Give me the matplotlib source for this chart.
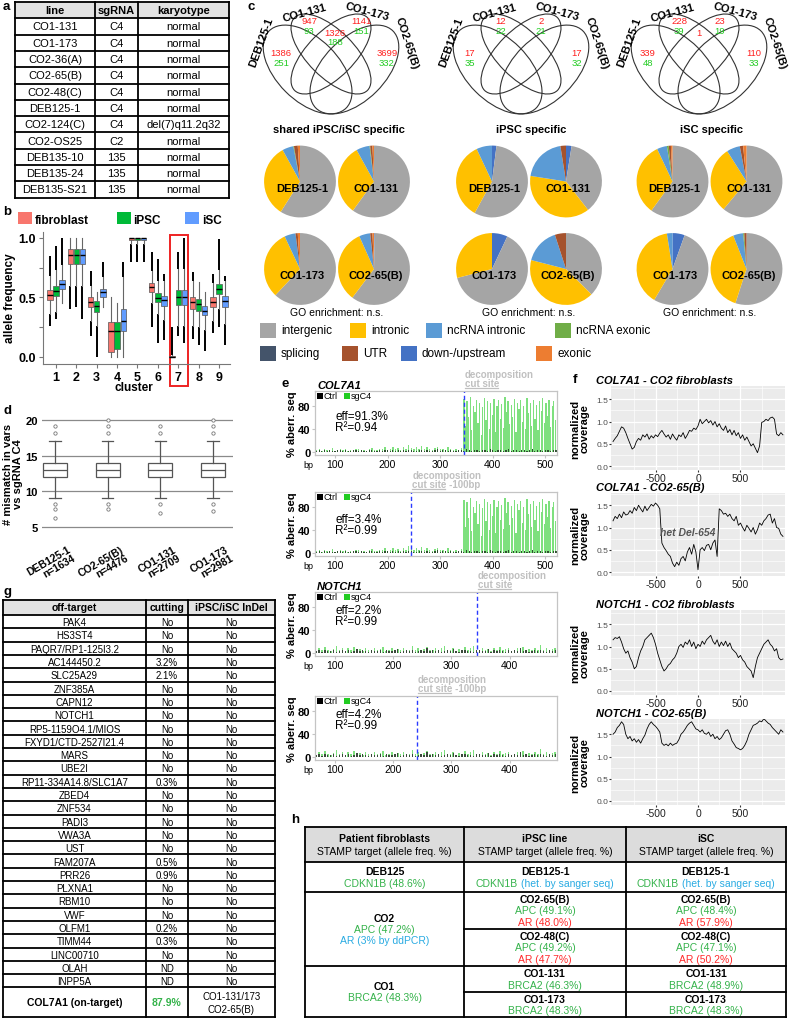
import numpy as np
import matplotlib
matplotlib.use("Agg")
import matplotlib.pyplot as plt
from matplotlib.patches import Rectangle, Ellipse

plt.rcParams["font.family"] = ["Liberation Sans", "DejaVu Sans"]

W, H = 790, 1020

# ---------------- data ----------------
# a: cell lines
a_lines = ["CO1-131", "CO1-173", "CO2-36(A)", "CO2-65(B)", "CO2-48(C)", "DEB125-1",
           "CO2-124(C)", "CO2-OS25", "DEB135-10", "DEB135-24", "DEB135-S21"]
a_sgrna = ["C4", "C4", "C4", "C4", "C4", "C4", "C4", "C2", "135", "135", "135"]
a_karyo = ["normal", "normal", "normal", "normal", "normal", "normal", "del(7)q11.2q32",
           "normal", "normal", "normal", "normal"]

# b: allele frequency per cluster (fibroblast, iPSC, iSC)
clusters = [1, 2, 3, 4, 5, 6, 7, 8, 9]
fib_med = [0.52, 0.86, 0.46, 0.22, 1.00, 0.585, 0.00, 0.46, 0.46]
fib_q1 = [0.48, 0.78, 0.42, 0.045, 0.98, 0.55, 0.00, 0.40, 0.42]
fib_q3 = [0.56, 0.91, 0.50, 0.29, 1.00, 0.62, 0.01, 0.50, 0.50]
fib_wlo = [0.36, 0.60, 0.30, 0.00, 0.95, 0.45, 0.00, 0.26, 0.30]
fib_whi = [0.68, 1.00, 0.60, 0.50, 1.00, 0.72, 0.02, 0.64, 0.62]
fib_fl = [[(0.26, 0.36), (0.68, 0.85)], [(0.40, 0.60)], [(0.18, 0.30), (0.60, 0.72)], [],
          [(0.80, 0.95)], [(0.25, 0.45), (0.72, 0.88)], [(0.02, 0.25)],
          [(0.15, 0.26), (0.64, 0.71)], [(0.20, 0.30), (0.62, 0.70)]]
ipsc_med = [0.555, 0.86, 0.425, 0.22, 1.00, 0.495, 0.50, 0.445, 0.57]
ipsc_q1 = [0.51, 0.78, 0.375, 0.065, 0.98, 0.46, 0.44, 0.39, 0.53]
ipsc_q3 = [0.60, 0.91, 0.47, 0.29, 1.00, 0.535, 0.56, 0.49, 0.61]
ipsc_wlo = [0.38, 0.60, 0.26, 0.00, 0.95, 0.36, 0.26, 0.25, 0.40]
ipsc_whi = [0.73, 1.00, 0.55, 0.45, 1.00, 0.64, 0.74, 0.63, 0.73]
ipsc_fl = [[(0.32, 0.38), (0.73, 0.93)], [(0.42, 0.60)], [(0.00, 0.26)], [],
           [(0.80, 0.95)], [(0.12, 0.36), (0.64, 0.82)], [(0.18, 0.26), (0.74, 0.88)],
           [(0.10, 0.25)], [(0.25, 0.40), (0.73, 0.99)]]
isc_med = [0.61, 0.86, 0.545, 0.305, 1.00, 0.475, 0.50, 0.39, 0.47]
isc_q1 = [0.57, 0.78, 0.50, 0.22, 0.98, 0.43, 0.44, 0.35, 0.42]
isc_q3 = [0.65, 0.91, 0.57, 0.40, 1.00, 0.515, 0.56, 0.43, 0.51]
isc_wlo = [0.45, 0.60, 0.42, 0.00, 0.95, 0.31, 0.26, 0.23, 0.28]
isc_whi = [0.77, 1.00, 0.67, 0.67, 1.00, 0.64, 0.74, 0.55, 0.64]
isc_fl = [[(0.77, 1.00)], [(0.32, 0.60)], [(0.67, 0.80)], [(0.67, 0.80)], [(0.80, 0.95)],
          [(0.14, 0.31), (0.64, 0.70)], [(0.12, 0.26), (0.74, 1.00)], [(0.05, 0.23)],
          [(0.10, 0.28), (0.64, 0.68)]]
b_groups = ["fibroblast", "iPSC", "iSC"]

# c: venn counts (regions: DEB only, CO1-131 only, CO1-131&173, CO1-173 only, CO2-65(B) only)
venn_sets = ["DEB125-1", "CO1-131", "CO1-173", "CO2-65(B)"]
venn_titles = ["shared iPSC/iSC specific", "iPSC specific", "iSC specific"]
venn_red = [[1386, 947, 1326, 1141, 3699], [17, 12, None, 2, 17], [339, 228, 1, 23, 110]]
venn_green = [[251, 93, 188, 151, 332], [35, 22, None, 21, 32], [48, 39, None, 19, 33]]

pie_cats = ["intergenic", "intronic", "ncRNA intronic", "ncRNA exonic",
            "splicing", "UTR", "down-/upstream", "exonic"]
pie_samples = ["DEB125-1", "CO1-131", "CO1-173", "CO2-65(B)"]
pie_shared = [[59, 33, 5, 0.3, 0, 1.7, 0, 1.0],
              [60, 32, 6, 0.3, 0, 1.0, 0, 0.7],
              [62, 31, 5, 0, 0, 1.0, 0, 1.0],
              [60, 33, 5, 0, 0, 1.0, 0.3, 0.7]]
pie_ipsc = [[56, 35, 7, 0, 0, 0, 2, 0],
            [37, 38, 20, 0, 0, 2.5, 2.5, 0],
            [64, 29, 0, 0, 0, 0, 7, 0],
            [37.5, 41.5, 16, 0, 0, 5, 0, 0]]
pie_isc = [[60, 33, 4.5, 0.8, 0, 1.0, 0, 0.7],
           [61, 30, 6, 0, 0, 1.5, 0, 1.5],
           [53, 39, 2.5, 0, 0, 0, 5.5, 0],
           [55, 39, 4.5, 0.5, 0, 1.0, 0, 0]]

# d: mismatches
d_labels = ["DEB125-1\nn=1634", "CO2-65(B)\nn=4476", "CO1-131\nn=2709", "CO1-173\nn=2981"]
d_med = [13, 13, 13, 13]
d_q1 = [12, 12, 12, 12]
d_q3 = [14, 14, 14, 14]
d_wlo = [9, 9, 9, 9]
d_whi = [17, 17, 17, 17]
d_fliers = [[19.2, 18.2, 8.2, 7.5, 6.3], [20, 19.2, 18.2, 8.2, 7.5],
            [19.2, 18.2, 8.2, 7.0], [20, 19.2, 18.2, 8.2, 7.2]]

# e: % aberrant sequence traces
col7_sg_low = [3, 5, 2, 6, 4, 3, 7, 2, 4, 5, 3, 6, 2, 4, 3, 5, 6, 3, 4, 2, 5, 7, 3, 4, 6, 5, 8, 4,
               6, 9, 5, 7, 4, 8, 6, 12, 7, 5, 9, 6, 10, 5, 8, 6, 4, 7, 9, 5, 6, 4, 8, 5, 3, 6, 4, 7]
col7_sg_high = [92, 45, 88, 60, 95, 38, 80, 70, 90, 50, 85, 30, 78, 93, 55, 88, 40, 86, 65, 92,
                35, 80, 90, 58, 84, 42, 95, 70, 88, 48, 82, 60, 92, 35, 86, 75, 90, 52, 80, 40,
                94, 68, 86, 45, 90, 58, 82, 38, 88, 72, 93, 50, 85, 62, 90, 44, 80, 88, 55]
col7_ctrl = [2, 3, 1, 4, 2, 3, 2, 1, 3, 4, 2, 3, 1, 2, 4, 3, 2, 3, 1, 2, 3, 4, 2, 1, 3, 2, 4, 3,
             2, 3, 1, 4, 2, 3, 2, 4, 3, 1, 2, 3, 4, 2, 3, 2, 1, 3, 5, 2, 3, 4, 2, 3, 1, 2, 4, 3,
             2, 5, 3, 2, 4, 3, 2, 3, 4, 2, 5, 3, 2, 4, 3, 2, 3, 5, 2, 4, 3, 2, 3, 4, 2, 3, 5, 2,
             3, 4, 2, 3, 4, 2, 3, 4]
notch_sg = [4, 8, 5, 10, 6, 3, 7, 12, 5, 8, 4, 9, 6, 11, 5, 7, 3, 8, 6, 4, 9, 5, 7, 10, 4, 6, 8,
            3, 7, 5, 9, 4, 6, 12, 5, 8, 4, 7, 10, 5, 6, 9, 4, 8, 13, 6, 5, 9, 4, 7, 6, 10, 5, 8,
            12, 4, 6, 9, 5, 7, 4, 8, 6, 11, 5, 7, 9, 4, 6, 8, 5, 10, 4, 7, 6, 9, 5, 14, 6, 8, 5,
            7, 9]
notch_ctrl = [3, 5, 2, 6, 4, 3, 5, 2, 4, 6, 3, 5, 2, 4, 7, 3, 5, 4, 2, 6, 3, 4, 5, 2, 6, 4, 3,
              5, 7, 2, 4, 6, 3, 5, 2, 4, 6, 3, 8, 4, 5, 3, 6, 2, 4, 5, 3, 7, 4, 2, 5, 6, 3, 4, 2,
              6, 5, 3, 4, 7, 2, 5, 3, 6, 4, 2, 5, 3, 6, 4, 8, 3, 5, 2, 4, 6, 3, 5, 4, 2, 6, 3, 5]
e_gene = ["COL7A1", "COL7A1", "NOTCH1", "NOTCH1"]
e_cut = [345, 245, 343, 241]
e_window = ["cut site", "cut site -100bp", "cut site", "cut site -100bp"]
e_eff = ["91.3%", "3.4%", "2.2%", "4.2%"]
e_r2 = ["0.94", "0.99", "0.99", "0.99"]

# f: normalized coverage, positions -1000..1000 step 25
f_titles = ["COL7A1 - CO2 fibroblasts", "COL7A1 - CO2-65(B)",
            "NOTCH1 - CO2 fibroblasts", "NOTCH1 - CO2-65(B)"]
f_cov = [
    [0.55, 0.62, 0.68, 0.78, 0.88, 0.85, 0.75, 0.62, 0.50, 0.38,
     0.42, 0.55, 0.62, 0.58, 0.70, 0.65, 0.72, 0.60, 0.68, 0.63,
     0.70, 0.66, 0.74, 0.80, 0.72, 0.65, 0.70, 0.60, 0.72, 0.64,
     0.58, 0.70, 0.66, 0.75, 0.62, 0.70, 0.80, 0.78, 0.85, 0.82,
     0.90, 1.05, 0.95, 1.00, 1.05, 0.97, 1.02, 0.92, 1.00, 0.88,
     0.95, 0.85, 0.80, 0.90, 0.75, 0.82, 0.70, 0.80, 0.68, 0.75,
     0.62, 0.70, 0.58, 0.65, 0.55, 0.45, 0.50, 0.40, 0.30, 0.45,
     0.98, 1.00, 1.05, 1.02, 1.08, 1.10, 1.05, 0.72, 0.68, 0.75, 0.70],
    [1.15, 1.25, 1.20, 1.30, 1.22, 1.35, 1.28, 1.30, 1.38, 1.32,
     1.45, 1.38, 1.50, 1.42, 1.35, 1.48, 1.38, 1.45, 1.52, 1.48,
     1.55, 1.50, 1.42, 0.65, 0.55, 0.48, 0.40, 0.35, 0.20, 0.12,
     0.22, 0.15, 0.30, 0.35, 0.25, 0.45, 0.55, 0.40, 0.62, 0.45,
     0.05, 0.50, 0.55, 0.48, 0.60, 0.62, 0.50, 0.65, 0.72, 0.35,
     1.42, 1.38, 1.30, 1.32, 1.25, 1.30, 1.20, 1.15, 1.25, 1.05,
     1.10, 1.00, 0.92, 1.05, 0.98, 0.90, 1.00, 0.85, 0.95, 1.10,
     1.05, 1.15, 1.20, 1.28, 1.30, 1.10, 1.20, 1.00, 0.98, 0.85, 0.80],
    [1.15, 1.20, 1.18, 1.22, 1.10, 0.95, 0.85, 0.90, 0.75, 0.65,
     0.50, 0.55, 0.75, 0.90, 1.00, 1.15, 1.20, 1.25, 1.30, 1.20,
     1.05, 0.85, 0.70, 0.55, 0.45, 0.50, 0.58, 0.62, 0.70, 0.75,
     0.85, 1.00, 1.05, 0.98, 1.10, 1.05, 1.15, 1.00, 1.10, 0.95,
     1.05, 1.00, 1.12, 1.05, 1.15, 1.20, 1.25, 1.12, 1.05, 1.15,
     1.00, 1.10, 1.02, 1.12, 1.00, 1.08, 0.95, 0.90, 0.85, 0.75,
     0.80, 0.70, 0.65, 0.55, 0.50, 0.45, 0.30, 0.55, 0.75, 0.85,
     0.95, 1.05, 1.10, 1.15, 1.05, 1.00, 0.90, 0.95, 0.75, 0.70, 0.72],
    [1.50, 1.55, 1.65, 1.70, 1.78, 1.72, 1.50, 1.40, 1.45, 1.35,
     1.40, 1.32, 1.38, 1.30, 1.40, 1.48, 1.62, 1.72, 1.78, 1.72,
     1.68, 1.62, 1.55, 1.30, 1.25, 1.28, 1.24, 1.30, 1.25, 1.28,
     1.30, 1.38, 1.50, 1.55, 1.62, 1.70, 1.75, 1.78, 1.70, 1.62,
     1.60, 1.55, 1.60, 1.52, 1.50, 1.55, 1.45, 1.50, 1.40, 1.45,
     1.38, 1.42, 1.50, 1.58, 1.60, 1.50, 1.35, 1.28, 1.20, 1.18,
     1.15, 1.18, 1.25, 1.35, 1.50, 1.60, 1.70, 1.72, 1.75, 1.80,
     1.78, 1.85, 1.80, 1.75, 1.72, 1.65, 1.60, 1.55, 1.50, 1.60, 1.55],
]

# g: off-target table
g_targets = ["PAK4", "HS3ST4", "PAQR7/RP1-125I3.2", "AC144450.2", "SLC25A29", "ZNF385A",
             "CAPN12", "NOTCH1", "RP5-1159O4.1/MIOS", "FXYD1/CTD-2527I21.4", "MARS", "UBE2I",
             "RP11-334A14.8/SLC1A7", "ZBED4", "ZNF534", "PADI3", "VWA3A", "UST", "FAM207A",
             "PRR26", "PLXNA1", "RBM10", "VWF", "OLFM1", "TIMM44", "LINC00710", "OLAH", "INPP5A"]
g_cutting = ["No", "No", "No", "3.2%", "2.1%", "No", "No", "No", "No", "No", "No", "No", "0.3%",
             "No", "No", "No", "No", "No", "0.5%", "0.9%", "No", "No", "No", "0.2%", "0.3%",
             "No", "ND", "ND"]
g_indel = ["No"] * 28

# h: STAMP targets
G, R, B = "#34b24a", "#ff2a2a", "#29abe2"
h_patient = [("DEB125", [("CDKN1B (48.6%)", G)]),
             ("CO2", [("APC (47.2%)", G), ("AR (3% by ddPCR)", B)]),
             ("CO1", [("BRCA2 (48.3%)", G)])]
h_ipsc = [("DEB125-1", [(("CDKN1B", G), ("(het. by sanger seq)", B))]),
          ("CO2-65(B)", [("APC (49.1%)", G), ("AR (48.0%)", R)]),
          ("CO2-48(C)", [("APC (49.2%)", G), ("AR (47.7%)", R)]),
          ("CO1-131", [("BRCA2 (46.3%)", G)]),
          ("CO1-173", [("BRCA2 (48.3%)", G)])]
h_isc = [("DEB125-1", [(("CDKN1B", G), ("(het. by sanger seq)", B))]),
         ("CO2-65(B)", [("APC (48.4%)", G), ("AR (57.9%)", R)]),
         ("CO2-48(C)", [("APC (47.1%)", G), ("AR (50.2%)", R)]),
         ("CO1-131", [("BRCA2 (48.9%)", G)]),
         ("CO1-173", [("BRCA2 (48.3%)", G)])]

# ---------------- figure ----------------
fig = plt.figure(figsize=(W / 100, H / 100), dpi=100)
ov = fig.add_axes([0, 0, 1, 1])
ov.set_xlim(0, W)
ov.set_ylim(H, 0)
ov.axis("off")


def px_axes(x0, y0, x1, y1):
    return fig.add_axes([x0 / W, 1 - y1 / H, (x1 - x0) / W, (y1 - y0) / H])


def letter(x, y, s):
    ov.text(x, y, s, fontsize=9.5, fontweight="bold", va="top", ha="left")


def hl(x0, x1, y, lw=1.3):
    ov.plot([x0, x1], [y, y], color="black", lw=lw, solid_capstyle="projecting")


def vl(x, y0, y1, lw=1.3):
    ov.plot([x, x], [y0, y1], color="black", lw=lw, solid_capstyle="projecting")


# ---- a ----
letter(3, 1, "a")
ax_ = [15, 95, 138, 229]
ay_ = [3 + 16.3 * i for i in range(13)]
ov.add_patch(Rectangle((ax_[0], ay_[0]), ax_[-1] - ax_[0], ay_[1] - ay_[0], color="#e3e3e3", lw=0))
for x in ax_:
    vl(x, ay_[0], ay_[-1])
for y in ay_:
    hl(ax_[0], ax_[-1], y)
for j, head in enumerate(["line", "sgRNA", "karyotype"]):
    ov.text((ax_[j] + ax_[j + 1]) / 2, (ay_[0] + ay_[1]) / 2, head, fontsize=8,
            fontweight="bold", ha="center", va="center")
for i, row in enumerate(zip(a_lines, a_sgrna, a_karyo)):
    for j, val in enumerate(row):
        ov.text((ax_[j] + ax_[j + 1]) / 2, (ay_[i + 1] + ay_[i + 2]) / 2, val, fontsize=8,
                ha="center", va="center")

# ---- b ----
letter(3, 206, "b")
b_colors = ["#F8766D", "#00BA38", "#619CFF"]
for (sx, tx), name, col in zip([(18, 35), (117, 133), (185, 202)], b_groups, b_colors):
    ov.add_patch(Rectangle((sx, 213), 14, 12, color=col, lw=0))
    ov.text(tx, 221, name, fontsize=8.5, fontweight="bold", va="center", ha="left")

axb = px_axes(43, 233, 230, 365)
axb.set_facecolor("none")
offsets = [-0.3, 0.0, 0.3]
b_data = [(fib_med, fib_q1, fib_q3, fib_wlo, fib_whi, fib_fl),
          (ipsc_med, ipsc_q1, ipsc_q3, ipsc_wlo, ipsc_whi, ipsc_fl),
          (isc_med, isc_q1, isc_q3, isc_wlo, isc_whi, isc_fl)]
for g, (med, q1, q3, wlo, whi, fl) in enumerate(b_data):
    pos = [c + offsets[g] for c in clusters]
    for k in range(len(clusters)):
        for lo, hi in fl[k]:
            axb.vlines(pos[k], lo, hi, color="black", lw=1.4, zorder=1)
    stats = [dict(med=med[k], q1=q1[k], q3=q3[k], whislo=wlo[k], whishi=whi[k], fliers=[])
             for k in range(len(clusters))]
    axb.bxp(stats, positions=pos, widths=0.26, patch_artist=True, showfliers=False,
            showcaps=False, manage_ticks=False,
            boxprops=dict(facecolor=b_colors[g], edgecolor="#555555", lw=0.5),
            medianprops=dict(color="black", lw=1.0),
            whiskerprops=dict(color="#666666", lw=0.8))
axb.set_xlim(0.362, 9.54)
axb.set_ylim(-0.059, 1.05)
for s in ["top", "right"]:
    axb.spines[s].set_visible(False)
for s in ["left", "bottom"]:
    axb.spines[s].set_color("#777777")
axb.set_xticks(clusters)
axb.set_xticklabels([str(c) for c in clusters], fontsize=9, fontweight="bold")
axb.set_yticks([0, 0.5, 1.0])
axb.set_yticklabels(["0.0", "0.5", "1.0"], fontsize=9, fontweight="bold")
axb.set_yticks([0.25, 0.75], minor=True)
axb.tick_params(which="both", length=3, width=0.8, color="#777777", pad=2)
axb.add_patch(Rectangle((6.58, -0.244), 0.9, 1.27, fill=False, edgecolor="#ee2222", lw=1.4,
                        clip_on=False, transform=axb.transData))
ov.text(10, 298, "allele frequency", rotation=90, fontsize=8.5, fontweight="bold",
        ha="center", va="center")
ov.text(134, 388, "cluster", fontsize=8.5, fontweight="bold", ha="center", va="center")

# ---- c ----
letter(247, 1, "c")
venn_cx = [331, 521, 699]
ell = [(-23.4, 70.5, 109, 62.4, 45), (0, 55, 103, 46.8, 45),
       (0, 55, 103, 46.8, -45), (23.4, 70.5, 109, 62.4, -45)]
lab_dx = [-70, -27, 36, 76]
lab_y = [43, 13, 12, 43]
lab_rot = [70, 15, -15, -72]
num_dx = [[-50, -22, 4, 30, 56], [-51, -20, 0, 20, 56], [-51, -20, 0, 21, 55]]
num_y = [54, 22, 33, 22, 54]
for v, cx in enumerate(venn_cx):
    for dx, cy, w, h, ang in ell:
        ov.add_patch(Ellipse((cx + dx, cy), w, h, angle=ang, fill=False,
                             edgecolor="#333333", lw=0.8))
    for name, dx, y, rot in zip(venn_sets, lab_dx, lab_y, lab_rot):
        ov.text(cx + dx, y, name, rotation=rot, fontsize=8, fontweight="bold",
                ha="center", va="center")
    for r in range(5):
        red = venn_red[v][r]
        grn = venn_green[v][r]
        if red is not None:
            ov.text(cx + num_dx[v][r], num_y[r], str(red), color="#ff2020", fontsize=6.8,
                    ha="center", va="center")
        if grn is not None:
            ov.text(cx + num_dx[v][r], num_y[r] + 9.5, str(grn), color="#22cc22",
                    fontsize=6.8, ha="center", va="center")

pie_colors = ["#a5a5a5", "#ffc000", "#5b9bd5", "#70ad47", "#44546a", "#a5522d", "#4472c4",
              "#ed7d31"]
pie_order = [6, 0, 1, 2, 3, 4, 5, 7]
pie_cx = [337, 529, 709.5]
pie_rows = [182.5, 270]
for v, data in enumerate([pie_shared, pie_ipsc, pie_isc]):
    ov.text(pie_cx[v] + 2, 130, venn_titles[v], fontsize=8, fontweight="bold",
            ha="center", va="center")
    ov.text(pie_cx[v], 313, "GO enrichment: n.s.", fontsize=7.5, ha="center", va="center")
    for i, name in enumerate(pie_samples):
        cx = pie_cx[v] + (-37 if i % 2 == 0 else 37)
        cy = pie_rows[i // 2]
        axp = px_axes(cx - 37, cy - 37, cx + 37, cy + 37)
        axp.pie([data[i][k] for k in pie_order], colors=[pie_colors[k] for k in pie_order],
                startangle=90, counterclock=False, radius=1.0,
                wedgeprops=dict(linewidth=0))
        axp.set_xlim(-1.03, 1.03)
        axp.set_ylim(-1.03, 1.03)
        axp.set_aspect("equal")
        axp.axis("off")
        axp.text(0.06, -0.17, name, fontsize=8, fontweight="bold", ha="center", va="center")

leg_pos = [(260, 331), (350, 331), (426, 331), (555, 331),
           (260, 354), (342, 354), (401, 354), (536, 354)]
for k, (lx, ly) in enumerate(leg_pos):
    ov.add_patch(Rectangle((lx, ly - 7.5), 16, 15, color=pie_colors[k], lw=0))
    ov.text(lx + 21, ly, pie_cats[k], fontsize=8.5, ha="left", va="center")

# ---- d ----
letter(3, 405, "d")
axd = px_axes(42, 415, 233, 533)
axd.set_facecolor("none")
for y in [5, 10, 15, 20]:
    axd.axhline(y, color="#8a8a8a", lw=0.9, zorder=0)
d_pos = [1, 2, 3, 4]
d_stats = [dict(med=d_med[k], q1=d_q1[k], q3=d_q3[k], whislo=d_wlo[k], whishi=d_whi[k],
                fliers=d_fliers[k]) for k in range(4)]
axd.bxp(d_stats, positions=d_pos, widths=0.45, patch_artist=True, manage_ticks=False,
        capwidths=0.22,
        boxprops=dict(facecolor="white", edgecolor="#555555", lw=0.9),
        medianprops=dict(color="#555555", lw=0.9),
        whiskerprops=dict(color="#555555", lw=0.9),
        capprops=dict(color="#555555", lw=0.9),
        flierprops=dict(marker="o", markersize=2.4, markerfacecolor="white",
                        markeredgecolor="#777777", markeredgewidth=0.6))
axd.set_xlim(0.753, 4.38)
axd.set_ylim(4.3, 20.84)
for s in axd.spines.values():
    s.set_visible(False)
axd.set_xticks([])
axd.set_yticks([5, 10, 15, 20])
axd.set_yticklabels(["5", "10", "15", "20"], fontsize=8, fontweight="bold")
axd.tick_params(axis="y", length=0, pad=3)
for p, lab in zip(d_pos, d_labels):
    axd.text(p + 0.23, -0.1, lab, transform=axd.get_xaxis_transform(), rotation=30,
             rotation_mode="anchor", ha="right", va="top", multialignment="right",
             fontsize=7.5, fontweight="bold", linespacing=1.0)
ov.text(13, 474, "# mismatch in vars\nvs sgRNA C4", rotation=90, fontsize=8,
        fontweight="bold", ha="center", va="center", linespacing=1.05)

# ---- e ----
letter(281, 378, "e")
ov.text(317, 386, "COL7A1", fontsize=8, fontweight="bold", fontstyle="italic", va="center")
ov.text(317, 587, "NOTCH1", fontsize=8, fontweight="bold", fontstyle="italic", va="center")
e_tops = [392, 493, 593, 697]
eff_off = [25, 27, 18, 18]
EX0, EX1 = 315, 557
for i, top in enumerate(e_tops):
    axe = px_axes(EX0, top, EX1, top + 64)
    axe.set_facecolor("none")
    if e_gene[i] == "COL7A1":
        xlim = (62, 522)
        axe.bar(np.arange(65, 345, 5), col7_sg_low, width=2.6, color="#7ee07e", lw=0)
        axe.bar(np.arange(345, 520, 3), col7_sg_high, width=2.4, color="#7ee07e", lw=0)
        axe.bar(np.arange(65, 525, 5), col7_ctrl, width=2.2, color="#2f4f2f", lw=0)
        xt = [100, 200, 300, 400, 500]
    else:
        xlim = (66, 481)
        axe.bar(np.arange(68, 483, 5), notch_sg, width=2.6, color="#7ee07e", lw=0)
        axe.bar(np.arange(68, 483, 5), notch_ctrl, width=2.2, color="#3a4a3a", lw=0)
        xt = [100, 200, 300, 400]
    axe.axvline(e_cut[i], color="#2b3bff", lw=1.0, ls=(0, (3, 2)))
    axe.set_xlim(*xlim)
    axe.set_ylim(-5.2, 106)
    for s in axe.spines.values():
        s.set_color("#c4c4c4")
        s.set_linewidth(0.9)
    axe.set_yticks([0, 40, 80])
    axe.set_yticklabels(["0", "40", "80"], fontsize=8, fontweight="bold")
    axe.set_xticks(xt)
    axe.set_xticklabels([str(t) for t in xt], fontsize=7.5)
    axe.tick_params(length=2, color="#c4c4c4", pad=1.2)
    ov.text(292, top + 32, "% aberr. seq", rotation=90, fontsize=8, fontweight="bold",
            ha="center", va="center")
    ov.text(303, top + 74, "bp", fontsize=6.5, ha="left", va="center")
    ov.add_patch(Rectangle((317, top + 2), 6, 6, color="black", lw=0))
    ov.text(324, top + 5, "Ctrl", fontsize=6.5, ha="left", va="center")
    ov.add_patch(Rectangle((344, top + 2), 6, 6, color="#22cc22", lw=0))
    ov.text(351, top + 5, "sgC4", fontsize=6.5, ha="left", va="center")
    ov.text(335, top + eff_off[i], "eff=" + e_eff[i], fontsize=8.5, ha="left", va="center")
    ov.text(335, top + eff_off[i] + 11, "R\u00b2=" + e_r2[i], fontsize=8.5, ha="left",
            va="center")
    cut_px = EX0 + (e_cut[i] - xlim[0]) / (xlim[1] - xlim[0]) * (EX1 - EX0)
    ov.text(cut_px + 1, top - 17, "decomposition", fontsize=7, fontweight="bold",
            color="#c0c0c0", ha="left", va="center")
    ov.text(cut_px + 1, top - 8, e_window[i], fontsize=7, fontweight="bold",
            color="#c0c0c0", ha="left", va="center")
    ov.plot([cut_px + 1, cut_px + 34], [top - 3.5, top - 3.5], color="#c0c0c0", lw=0.9)

# ---- f ----
letter(573, 374, "f")
f_pos = np.arange(-1000, 1001, 25)
f_tops = [387, 494, 611, 720]
f_zero = [467, 573, 692, 802]
PXU = 44.5
for i, top in enumerate(f_tops):
    bottom = f_zero[i] + 4
    axf = px_axes(611, top, 785, bottom)
    axf.set_facecolor("#ebebeb")
    axf.set_xlim(-1024, 1024)
    axf.set_ylim(-4 / PXU, (f_zero[i] - top) / PXU)
    axf.set_xticks([-500, 0, 500])
    axf.set_xticks([-750, -250, 250, 750], minor=True)
    axf.set_yticks([0, 0.5, 1.0, 1.5])
    axf.set_yticks([0.25, 0.75, 1.25, 1.75], minor=True)
    axf.grid(which="major", color="white", lw=0.9)
    axf.grid(which="minor", color="white", lw=0.45)
    axf.set_axisbelow(True)
    for s in axf.spines.values():
        s.set_visible(False)
    axf.set_xticklabels(["-500", "0", "500"], fontsize=7.5, color="#222222")
    axf.set_yticklabels(["0.0", "0.5", "1.0", "1.5"], fontsize=6, color="#4d4d4d")
    axf.tick_params(which="major", length=1.5, color="#333333", pad=0.5)
    axf.tick_params(which="minor", length=0)
    axf.plot(f_pos, f_cov[i], color="black", lw=0.6)
    if i == 1:
        axf.text(-118, 0.9, "het Del-654", fontsize=7.5, fontweight="bold",
                 fontstyle="italic", color="#555555", ha="center", va="center")
    ov.text(596, top - 6, f_titles[i], fontsize=8, fontweight="bold", fontstyle="italic",
            ha="left", va="center")
    ov.text(580, (top + bottom) / 2, "normalized\ncoverage", rotation=90, fontsize=8,
            fontweight="bold", ha="center", va="center", linespacing=1.0)

# ---- g ----
letter(3, 586, "g")
gx = [3, 146, 188, 275]
gy = [601] + [616 + 13.3 * i for i in range(29)] + [1018]
ov.add_patch(Rectangle((gx[0], gy[0]), gx[-1] - gx[0], gy[1] - gy[0], color="#e3e3e3", lw=0))
for x in gx:
    vl(x, gy[0], gy[-1])
for y in gy:
    hl(gx[0], gx[-1], y)
for j, head in enumerate(["off-target", "cutting", "iPSC/iSC InDel"]):
    ov.text((gx[j] + gx[j + 1]) / 2, (gy[0] + gy[1]) / 2, head, fontsize=7.5,
            fontweight="bold", ha="center", va="center")
for i, row in enumerate(zip(g_targets, g_cutting, g_indel)):
    for j, val in enumerate(row):
        ov.text((gx[j] + gx[j + 1]) / 2, (gy[i + 1] + gy[i + 2]) / 2 + 0.5, val, fontsize=7,
                ha="center", va="center")
ylast = (gy[-2] + gy[-1]) / 2
ov.text((gx[0] + gx[1]) / 2, ylast, "COL7A1 (on-target)", fontsize=7.5, fontweight="bold",
        ha="center", va="center")
ov.text((gx[1] + gx[2]) / 2, ylast, "87.9%", fontsize=7.5, fontweight="bold", color="#34b24a",
        ha="center", va="center")
ov.text((gx[2] + gx[3]) / 2, ylast, "CO1-131/173\nCO2-65(B)", fontsize=7, ha="center",
        va="center", linespacing=1.35)

# ---- h ----
letter(291, 814, "h")
hx = [305, 464, 626, 786]
ov.add_patch(Rectangle((hx[0], 828), hx[-1] - hx[0], 35, color="#dcdcdc", lw=0))
for x in hx:
    vl(x, 828, 1018)
for y in [828, 863, 893, 967, 1018]:
    hl(hx[0], hx[-1], y)
for y in [930, 993]:
    hl(hx[1], hx[-1], y)
h_heads = ["Patient fibroblasts", "iPSC line", "iSC"]
LS = 11.3


def stack(cx, y0, y1, title, lines):
    n = 1 + len(lines)
    yc = (y0 + y1) / 2
    ys = [yc + (k - (n - 1) / 2) * LS for k in range(n)]
    ov.text(cx, ys[0], title, fontsize=7.5, fontweight="bold", ha="center", va="center")
    for yk, line in zip(ys[1:], lines):
        if isinstance(line[0], tuple):
            (t1, c1), (t2, c2) = line
            ov.text(cx - 27, yk, t1, color=c1, fontsize=7.5, ha="right", va="center")
            ov.text(cx - 24, yk, t2, color=c2, fontsize=7.5, ha="left", va="center")
        else:
            ov.text(cx, yk, line[0], color=line[1], fontsize=7.5, ha="center", va="center")


for j, head in enumerate(h_heads):
    cx = (hx[j] + hx[j + 1]) / 2
    ov.text(cx, 839.5, head, fontsize=7.5, fontweight="bold", ha="center", va="center")
    ov.text(cx, 852.5, "STAMP target (allele freq. %)", fontsize=7.5, ha="center",
            va="center")
rows1 = [(863, 893), (893, 967), (967, 1018)]
rows2 = [(863, 893), (893, 930), (930, 967), (967, 993), (993, 1018)]
for (y0, y1), (title, lines) in zip(rows1, h_patient):
    stack((hx[0] + hx[1]) / 2, y0, y1, title, lines)
for col, data in [(1, h_ipsc), (2, h_isc)]:
    for (y0, y1), (title, lines) in zip(rows2, data):
        stack((hx[col] + hx[col + 1]) / 2, y0, y1, title, lines)

fig.savefig("out.png", dpi=100)
